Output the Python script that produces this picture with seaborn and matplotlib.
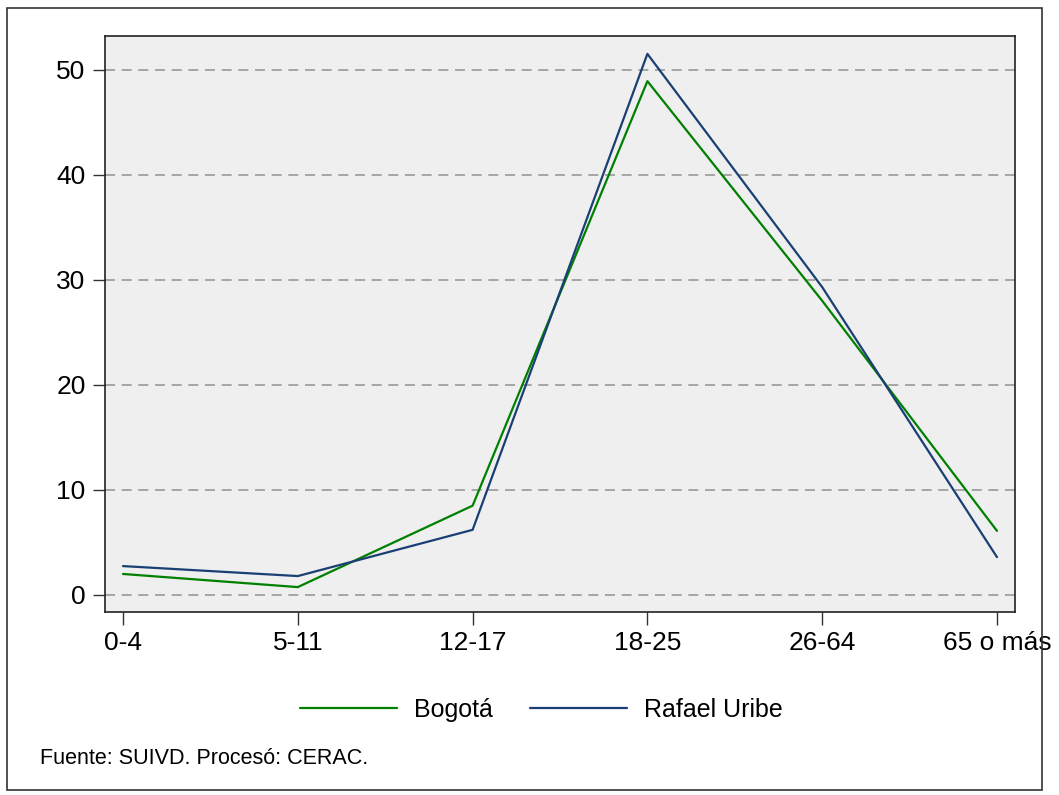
import seaborn as sns
import numpy as np
import pandas as pd
import matplotlib.pyplot as plt
from matplotlib.patches import Rectangle

grupos = ['0-4', '5-11', '12-17', '18-25', '26-64', '65 o más']
bogota = [2.0, 0.75, 8.5, 48.9, 28.0, 6.1]
rafael_uribe = [2.75, 1.8, 6.2, 51.5, 29.3, 3.6]
series = ['Bogotá', 'Rafael Uribe']
colores = ['#008000', '#1a3f73']

df = pd.DataFrame({
    'x': list(range(len(grupos))) * 2,
    'valor': bogota + rafael_uribe,
    'serie': [series[0]] * len(grupos) + [series[1]] * len(grupos),
})

sns.set_style('white')
plt.rcParams['font.family'] = ['Liberation Sans', 'DejaVu Sans']
plt.rcParams['text.color'] = 'black'
plt.rcParams['xtick.color'] = 'black'
plt.rcParams['ytick.color'] = 'black'

fig = plt.figure(figsize=(10.59, 7.95), dpi=100)
ax = fig.add_axes([105 / 1059, 1 - 612 / 795, 910 / 1059, 576 / 795])
ax.set_facecolor('#efefef')

sns.lineplot(data=df, x='x', y='valor', hue='serie', palette=colores,
             linewidth=1.6, ax=ax, legend=False)

ax.set_xlim(-0.103, 5.103)
ax.set_ylim(-1.62, 53.2)
ax.set_xticks(range(len(grupos)))
ax.set_xticklabels(grupos)
ax.set_yticks([0, 10, 20, 30, 40, 50])
ax.yaxis.grid(True, linestyle=(0, (6, 4)), color='#999999', linewidth=1.2)
ax.xaxis.grid(False)
ax.set_axisbelow(True)
ax.set_xlabel('')
ax.set_ylabel('')
ax.tick_params(axis='both', direction='out', length=9, width=1, color='#333333',
               labelcolor='black', labelsize=19, pad=5, left=True, bottom=True)
for s in ax.spines.values():
    s.set_color('#222222')
    s.set_linewidth(1.2)

handles = [plt.Line2D([], [], color=c, linewidth=1.6) for c in colores]
fig.legend(handles, series, loc='center', bbox_to_anchor=(0.511, 1 - 710 / 795),
           ncol=2, frameon=False, fontsize=18, handlelength=3.9,
           handletextpad=0.65, columnspacing=1.5)

fig.text(40 / 1059, 1 - 758 / 795, 'Fuente: SUIVD. Procesó: CERAC.',
         fontsize=15.5, va='center', ha='left')

fig.patches.append(Rectangle((7 / 1059, 5 / 795), 1035 / 1059, 782 / 795,
                             transform=fig.transFigure, fill=False,
                             edgecolor='#333333', linewidth=1.2))

fig.savefig('out.png', dpi=100)
